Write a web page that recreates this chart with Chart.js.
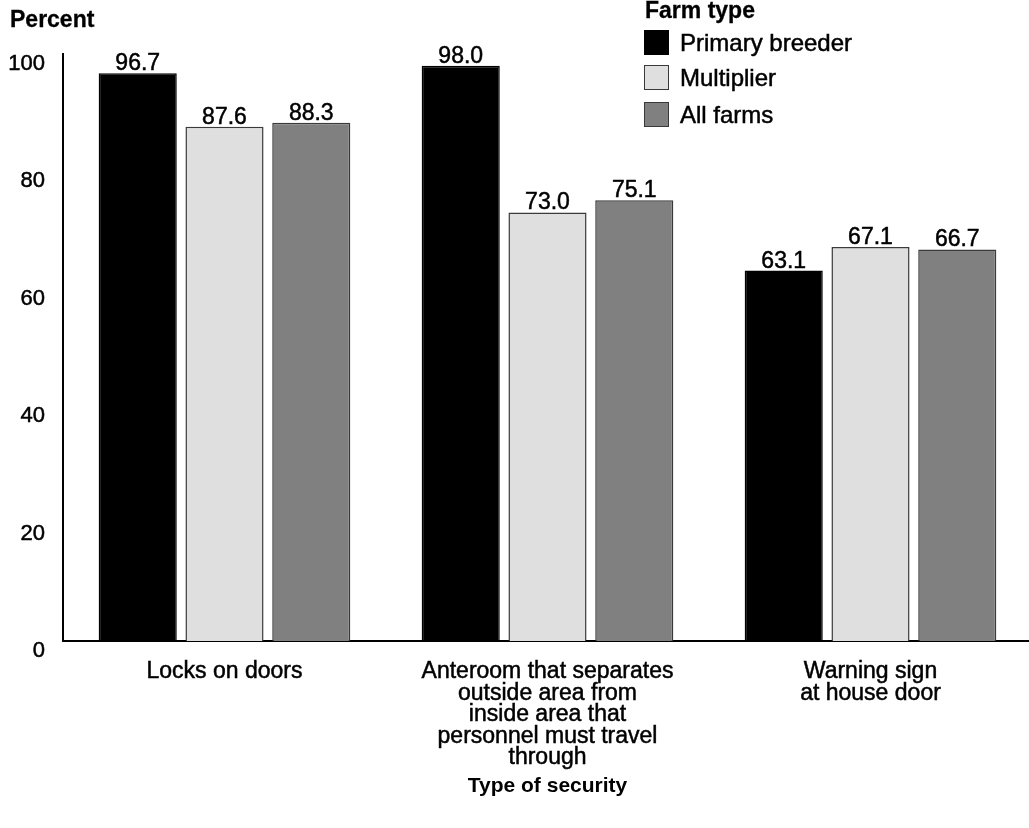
<!DOCTYPE html>
<html>
<head>
<meta charset="utf-8">
<script src="https://cdn.jsdelivr.net/npm/chart.js@4"></script>
<style>
  html, body { margin: 0; padding: 0; background: #fff; overflow: hidden; }
  body { font-family: "Liberation Sans", Arial, sans-serif; color: #000; }
  #wrap { position: relative; width: 1032px; height: 828px; }
  .lbl { position: absolute; white-space: nowrap; line-height: 1; -webkit-text-stroke: 0.3px #000; }
  .leg { position: absolute; left: 644px; }
  .leg .box { position: absolute; left: 0; width: 25px; height: 25px; box-sizing: border-box; }
  .leg .txt { position: absolute; left: 36px; font-size: 24px; line-height: 1; white-space: nowrap; -webkit-text-stroke: 0.5px #000; }
</style>
</head>
<body>
<div id="wrap">
  <canvas id="securityChart" width="1032" height="828"></canvas>
  <div class="lbl" style="left:10px; top:8px; font-size:23px; font-weight:bold;">Percent</div>
  <div class="lbl" style="left:645px; top:-1px; font-size:23px; font-weight:bold;">Farm type</div>
  <div id="legend"></div>
</div>
<script>
var categories = [
  ['Locks on doors'],
  ['Anteroom that separates', 'outside area from', 'inside area that', 'personnel must travel', 'through'],
  ['Warning sign', 'at house door']
];
var seriesNames = ['Primary breeder', 'Multiplier', 'All farms'];
var primaryBreeder = [96.7, 98.0, 63.1];
var multiplier = [87.6, 73.0, 67.1];
var allFarms = [88.3, 75.1, 66.7];
var yTicks = [0, 20, 40, 60, 80, 100];

var fills = ['#000000', '#dfdfdf', '#808080'];
var borders = ['#000000', '#3a3a3a', '#3a3a3a'];
var FONT = '"Liberation Sans", Arial, sans-serif';

function makeSet(i, values) {
  return {
    label: seriesNames[i],
    data: values,
    backgroundColor: fills[i],
    borderColor: borders[i],
    borderWidth: 1.5,
    categoryPercentage: 0.806,
    barPercentage: 0.9
  };
}

// values above bars
var valueLabels = {
  id: 'valueLabels',
  afterDatasetsDraw: function (chart) {
    var ctx = chart.ctx;
    ctx.save();
    ctx.font = '23px ' + FONT;
    ctx.fillStyle = '#000';
    ctx.strokeStyle = '#000';
    ctx.lineWidth = 0.5;
    ctx.textAlign = 'center';
    ctx.textBaseline = 'alphabetic';
    chart.data.datasets.forEach(function (ds, i) {
      chart.getDatasetMeta(i).data.forEach(function (bar, j) {
        var t = ds.data[j].toFixed(1);
        ctx.fillText(t, bar.x, bar.y - 3);
        ctx.strokeText(t, bar.x, bar.y - 3);
      });
    });
    ctx.restore();
  }
};

var config = {
  type: 'bar',
  data: {
    labels: categories,
    datasets: [
      makeSet(0, primaryBreeder),
      makeSet(1, multiplier),
      makeSet(2, allFarms)
    ]
  },
  options: {
    responsive: false,
    animation: false,
    devicePixelRatio: 1,
    layout: { padding: { top: 54, right: 0, left: 0, bottom: 0 } },
    plugins: {
      legend: { display: false },
      tooltip: { enabled: false }
    },
    scales: {
      x: {
        grid: { display: false, drawTicks: false },
        border: { display: true, color: '#000', width: 2 },
        ticks: {
          color: '#000',
          padding: 20,
          maxRotation: 0,
          autoSkip: false,
          textStrokeColor: '#000',
          textStrokeWidth: 0.5,
          font: { family: FONT, size: 23, lineHeight: '21.5px' }
        },
        title: {
          display: true,
          text: 'Type of security',
          color: '#000',
          font: { family: FONT, size: 21, weight: 'bold', lineHeight: 1.2 },
          padding: { top: 0, bottom: 29 }
        },
        afterFit: function (scale) { scale.height = 187; }
      },
      y: {
        min: 0,
        max: 100,
        grid: { display: false, drawTicks: false },
        border: { display: true, color: '#000', width: 2 },
        afterBuildTicks: function (scale) {
          scale.ticks = yTicks.map(function (v) { return { value: v }; });
        },
        ticks: {
          color: '#000',
          padding: 18,
          labelOffset: 10,
          textStrokeColor: '#000',
          textStrokeWidth: 0.5,
          font: { family: FONT, size: 22 }
        },
        afterFit: function (scale) { scale.width = 63; }
      }
    }
  },
  plugins: [valueLabels]
};

var myChart = new Chart(document.getElementById('securityChart'), config);

// legend
var legend = document.getElementById('legend');
var legTops = [30, 65, 102];
seriesNames.forEach(function (name, i) {
  var row = document.createElement('div');
  row.className = 'leg';
  row.style.top = legTops[i] + 'px';
  var box = document.createElement('div');
  box.className = 'box';
  box.style.background = fills[i];
  box.style.border = '1.5px solid ' + borders[i];
  var txt = document.createElement('div');
  txt.className = 'txt';
  txt.style.top = '1px';
  txt.textContent = name;
  row.appendChild(box);
  row.appendChild(txt);
  legend.appendChild(row);
});
</script>
</body>
</html>
